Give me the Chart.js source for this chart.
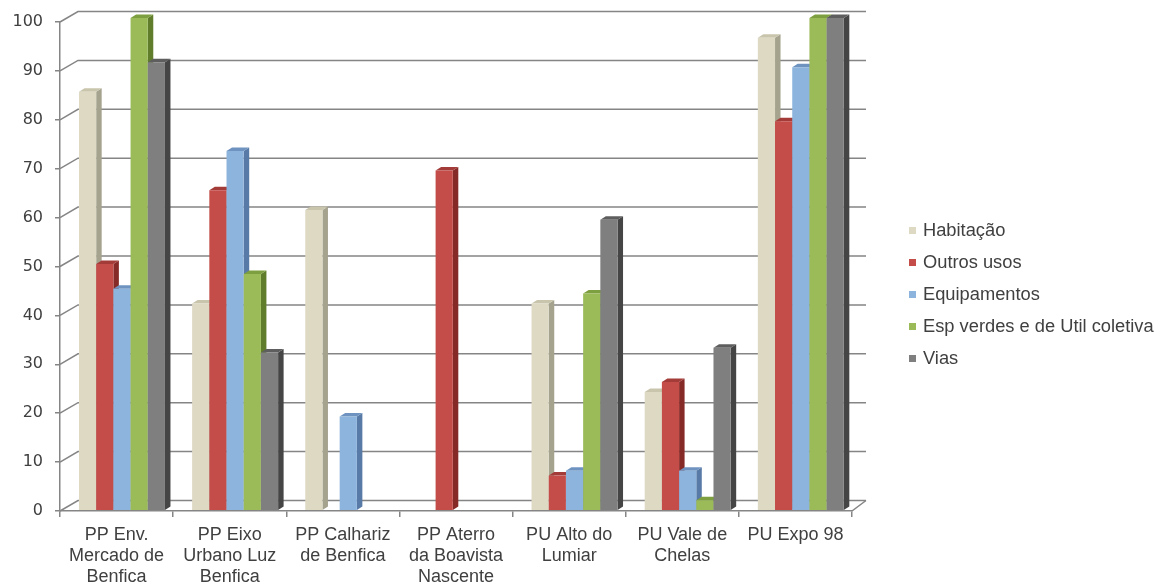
<!DOCTYPE html>
<html lang="pt">
<head>
<meta charset="utf-8">
<title>Execução dos planos</title>
<script src="https://cdn.jsdelivr.net/npm/chart.js@4"></script>
<style>
  html, body { margin: 0; padding: 0; background: #fff; }
  canvas { display: block; }
</style>
</head>
<body>
<canvas id="chart" width="1161" height="586"></canvas>
<script>
const PLANS = [
  ["PP Env.", "Mercado de", "Benfica"],
  ["PP Eixo", "Urbano Luz", "Benfica"],
  ["PP Calhariz", "de Benfica"],
  ["PP Aterro", "da Boavista", "Nascente"],
  ["PU Alto do", "Lumiar"],
  ["PU Vale de", "Chelas"],
  ["PU Expo 98"],
];
const SERIES_NAMES = ["Habitação", "Outros usos", "Equipamentos", "Esp verdes e de Util coletiva", "Vias"];
const HABITACAO = [85, 42, 61, null, 42, 24, 96];
const OUTROS_USOS = [50, 65, null, 69, 7, 26, 79];
const EQUIPAMENTOS = [45, 73, 19, null, 8, 8, 90];
const ESP_VERDES = [100, 48, null, null, 44, 2, 100];
const VIAS = [91, 32, null, null, 59, 33, 100];

const FRONT = ["#ddd9c3", "#c44d4a", "#8db4dc", "#9bbb59", "#7f7f7f"];
const SIDE = ["#a5a28e", "#862a27", "#587aa6", "#5f7d2a", "#454545"];
const TOP = ["#c9c5ad", "#a33c39", "#6f93c0", "#7e9f3f", "#5e5e5e"];

const FONT = "'Liberation Sans', Arial, sans-serif";
const TEXT = "#404040";
const LINE = "#858585";
const WALL = { dx: 18, dy: 10.5 }; // depth of the fake 3d box
const BAR = { dx: 5.5, dy: 3.5, shift: 5.4 };

// back wall, side wall and floor
const wallPlugin = {
  id: "wall",
  beforeDatasetsDraw(chart) {
    const { ctx, chartArea: a, scales } = chart;
    ctx.save();
    ctx.strokeStyle = LINE;
    ctx.lineWidth = 1.5;
    scales.y.ticks.forEach((t) => {
      const p = scales.y.getPixelForValue(t.value);
      ctx.beginPath();
      ctx.moveTo(a.left, p);
      ctx.lineTo(a.left + WALL.dx, p - WALL.dy);
      ctx.lineTo(a.right + 14, p - WALL.dy);
      ctx.stroke();
    });
    ctx.beginPath();
    ctx.moveTo(a.right, a.bottom);
    ctx.lineTo(a.right + 14, a.bottom - WALL.dy);
    ctx.stroke();
    ctx.restore();
  },
};

// later series have to cover the side face of earlier ones, so draw them in order
const bars3dPlugin = {
  id: "bars3d",
  beforeDatasetsDraw(chart) {
    const { ctx } = chart;
    ctx.save();
    ctx.translate(BAR.shift, 0);
    chart.data.datasets.forEach((ds, i) => {
      chart.getDatasetMeta(i).data.forEach((bar, j) => {
        if (ds.data[j] === null) return;
        const { x, y, base, width } = bar.getProps(["x", "y", "base", "width"], true);
        const x0 = x - width / 2;
        const x1 = x + width / 2;
        ctx.fillStyle = SIDE[i];
        ctx.beginPath();
        ctx.moveTo(x1, y);
        ctx.lineTo(x1 + BAR.dx, y - BAR.dy);
        ctx.lineTo(x1 + BAR.dx, base - BAR.dy);
        ctx.lineTo(x1, base);
        ctx.fill();
        ctx.fillStyle = TOP[i];
        ctx.beginPath();
        ctx.moveTo(x0, y);
        ctx.lineTo(x0 + BAR.dx, y - BAR.dy);
        ctx.lineTo(x1 + BAR.dx, y - BAR.dy);
        ctx.lineTo(x1, y);
        ctx.fill();
        bar.draw(ctx);
      });
    });
    ctx.restore();
  },
  beforeDatasetDraw() {
    return false;
  },
};

const legendPlugin = {
  id: "sideLegend",
  afterDraw(chart) {
    const { ctx } = chart;
    ctx.save();
    ctx.font = "18.3px " + FONT;
    ctx.textBaseline = "middle";
    chart.data.datasets.forEach((ds, i) => {
      const y = 230 + i * 32;
      ctx.fillStyle = FRONT[i];
      ctx.fillRect(909, y - 3, 7, 7);
      ctx.fillStyle = TEXT;
      ctx.fillText(ds.label, 923, y + 1);
    });
    ctx.restore();
  },
};

new Chart(document.getElementById("chart"), {
  type: "bar",
  data: {
    labels: PLANS,
    datasets: [HABITACAO, OUTROS_USOS, EQUIPAMENTOS, ESP_VERDES, VIAS].map((values, i) => ({
      label: SERIES_NAMES[i],
      data: values,
      yAxisID: "yBars",
      backgroundColor: FRONT[i],
      borderWidth: 0,
      barPercentage: 1,
      categoryPercentage: 0.76,
    })),
  },
  options: {
    responsive: false,
    animation: false,
    layout: { padding: { left: 0, top: 22, right: 309, bottom: 0 } },
    plugins: { legend: { display: false }, tooltip: { enabled: false } },
    scales: {
      x: {
        afterFit: (s) => { s.height = 75; },
        grid: { drawOnChartArea: false, tickLength: 6, color: LINE, lineWidth: 1.5 },
        border: { color: LINE, width: 1.5 },
        ticks: {
          autoSkip: false,
          maxRotation: 0,
          padding: 7,
          color: TEXT,
          font: { family: FONT, size: 18, lineHeight: 1.18 },
        },
      },
      y: {
        min: 0,
        max: 100,
        afterFit: (s) => { s.width = 60; },
        grid: { drawOnChartArea: false, tickLength: 5, color: LINE, lineWidth: 1.5 },
        border: { color: LINE, width: 1.5 },
        ticks: {
          stepSize: 10,
          padding: 12,
          color: TEXT,
          font: { family: "'DejaVu Sans', sans-serif", size: 16 },
        },
      },
      // bars sit a little inside the box, so they run on their own slightly shifted scale
      yBars: { display: false, min: -0.2, max: 99.2 },
    },
  },
  plugins: [wallPlugin, bars3dPlugin, legendPlugin],
});
</script>
</body>
</html>
